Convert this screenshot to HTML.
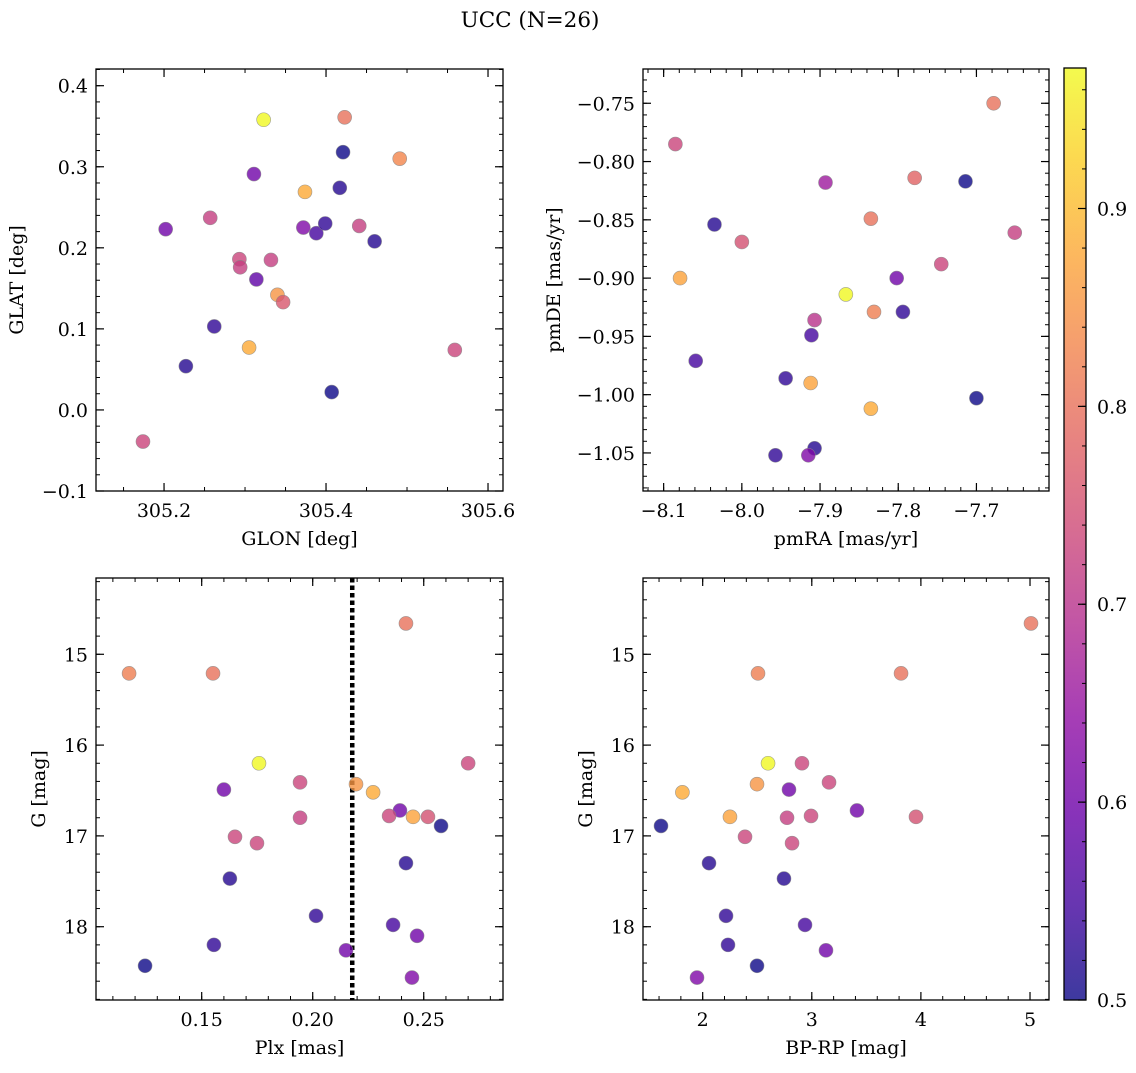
<!DOCTYPE html>
<html><head><meta charset="utf-8">
<style>
html,body{margin:0;padding:0;background:#fff;}
svg text{font-family:"DejaVu Serif","Liberation Serif",serif;fill:#000;}
</style></head>
<body>
<svg id="fig" width="1136" height="1068" viewBox="0 0 1136 1068" xmlns="http://www.w3.org/2000/svg">
<rect width="1136" height="1068" fill="#fff"/>
<text x="530" y="27" font-size="21.5" text-anchor="middle">UCC (N=26)</text>
<defs>
<linearGradient id="cbgrad" x1="0" y1="1" x2="0" y2="0">
<stop offset="0" stop-color="#0d0887"/><stop offset="0.1" stop-color="#41049d"/><stop offset="0.2" stop-color="#6a00a8"/><stop offset="0.3" stop-color="#8f0da4"/><stop offset="0.4" stop-color="#b12a90"/><stop offset="0.5" stop-color="#cc4778"/><stop offset="0.6" stop-color="#e16462"/><stop offset="0.7" stop-color="#f2844b"/><stop offset="0.8" stop-color="#fca636"/><stop offset="0.9" stop-color="#fcce25"/><stop offset="1" stop-color="#f0f921"/>
</linearGradient>
</defs>
</svg>
<script>
// ---- Panel 1: GLON / GLAT ----
const glon = [305.323,305.423,305.421,305.311,305.374,305.491,305.417,305.202,305.257,305.372,305.388,305.399,305.441,305.46,305.293,305.294,305.332,305.314,305.34,305.347,305.262,305.305,305.227,305.559,305.407,305.174];
const glat = [0.358,0.361,0.318,0.291,0.269,0.31,0.274,0.223,0.237,0.225,0.218,0.23,0.227,0.208,0.186,0.176,0.185,0.161,0.142,0.133,0.103,0.077,0.054,0.074,0.022,-0.039];
const c1 = [0.97,0.80,0.50,0.60,0.88,0.83,0.52,0.60,0.72,0.62,0.55,0.53,0.72,0.52,0.73,0.72,0.72,0.58,0.85,0.76,0.53,0.88,0.52,0.73,0.50,0.73];
// ---- Panel 2: pmRA / pmDE ----
const pmra = [-7.678,-8.085,-7.893,-7.779,-7.714,-8.035,-7.835,-8.0,-7.651,-8.079,-7.745,-7.802,-7.867,-7.831,-7.794,-7.907,-7.911,-8.059,-7.944,-7.912,-7.835,-7.7,-7.907,-7.957,-7.915];
const pmde = [-0.75,-0.785,-0.818,-0.814,-0.817,-0.854,-0.849,-0.869,-0.861,-0.9,-0.888,-0.9,-0.914,-0.929,-0.929,-0.936,-0.949,-0.971,-0.986,-0.99,-1.012,-1.003,-1.046,-1.052,-1.052];
const c2 = [0.80,0.73,0.66,0.78,0.50,0.52,0.80,0.75,0.72,0.87,0.73,0.60,0.97,0.82,0.53,0.70,0.55,0.55,0.53,0.87,0.88,0.50,0.52,0.53,0.62];
// ---- Panel 3: Plx / G ----
const plx = [0.1173,0.1551,0.242,0.1758,0.27,0.1943,0.2195,0.2272,0.16,0.2393,0.2344,0.2452,0.2519,0.1943,0.2578,0.165,0.1749,0.242,0.1627,0.2015,0.2362,0.247,0.1555,0.215,0.1245,0.2447];
const g3 = [15.21,15.21,14.66,16.2,16.2,16.41,16.43,16.52,16.49,16.72,16.78,16.79,16.79,16.8,16.89,17.01,17.08,17.3,17.47,17.88,17.98,18.1,18.2,18.26,18.43,18.56];
const c3 = [0.82,0.80,0.80,0.97,0.73,0.73,0.85,0.88,0.60,0.60,0.73,0.87,0.75,0.72,0.50,0.73,0.73,0.52,0.52,0.53,0.55,0.60,0.53,0.60,0.50,0.62];
const plxLine = [0.2178];
// ---- Panel 4: BP-RP / G ----
const bprp = [5.009,2.507,3.818,2.599,2.91,3.158,2.498,1.814,2.791,3.414,2.993,2.25,3.955,2.773,1.618,2.388,2.819,2.058,2.745,2.214,2.938,2.232,3.13,2.498,1.948];
const g4 = [14.66,15.21,15.21,16.2,16.2,16.41,16.43,16.52,16.49,16.72,16.78,16.79,16.79,16.8,16.89,17.01,17.08,17.3,17.47,17.88,17.98,18.2,18.26,18.43,18.56];
const c4 = [0.80,0.82,0.80,0.97,0.73,0.73,0.85,0.88,0.60,0.60,0.73,0.87,0.75,0.72,0.50,0.73,0.73,0.52,0.52,0.53,0.55,0.53,0.60,0.50,0.62];
// ---- tick labels ----
const ticks1x = [305.2,305.4,305.6], ticks1y = [-0.1,0.0,0.1,0.2,0.3,0.4];
const ticks2x = [-8.1,-8.0,-7.9,-7.8,-7.7], ticks2y = [-1.05,-1.00,-0.95,-0.90,-0.85,-0.80,-0.75];
const ticks3x = [0.15,0.20,0.25], ticksGy = [15,16,17,18];
const ticks4x = [2,3,4,5];
const cbTicks = [0.5,0.6,0.7,0.8,0.9];

const FS = 19;
const NS = 'http://www.w3.org/2000/svg';
const svg = document.getElementById('fig');
function mk(tag, attrs, parent){ const e=document.createElementNS(NS,tag); for(const k in attrs) e.setAttribute(k,attrs[k]); (parent||svg).appendChild(e); return e; }

const stops=[[13,8,135],[65,4,157],[106,0,168],[143,13,164],[177,42,144],[204,71,120],[225,100,98],[242,132,75],[252,166,54],[252,206,37],[240,249,33]];
const VMIN=0.5, VMAX=0.971;
function plasma(v){ let t=Math.max(0,Math.min(1,(v-VMIN)/(VMAX-VMIN)))*10; const i=Math.min(9,Math.floor(t)); const f=t-i; const a=stops[i],b=stops[i+1]; return 'rgb('+a.map((x,j)=>Math.round(x+(b[j]-x)*f)).join(',')+')'; }
function minus(s){ return s.replace('-','\u2212'); }

function panel(o){
  const sx=v=>o.L+(v-o.x0)/(o.x1-o.x0)*(o.R-o.L);
  const sy=v=>o.B-(v-o.y0)/(o.y1-o.y0)*(o.B-o.T);
  const g=mk('g',{});
  
  
  const mx0=Math.ceil(Math.min(o.x0,o.x1)/o.mx-1e-6);
  for(let k=mx0; k*o.mx<=Math.max(o.x0,o.x1)+1e-9; k++){ const x=sx(k*o.mx); mk('line',{x1:x,x2:x,y1:o.B,y2:o.B-4,stroke:'#000','stroke-width':1},g); mk('line',{x1:x,x2:x,y1:o.T,y2:o.T+4,stroke:'#000','stroke-width':1},g); }
  const my0=Math.ceil(Math.min(o.y0,o.y1)/o.my-1e-6);
  for(let k=my0; k*o.my<=Math.max(o.y0,o.y1)+1e-9; k++){ const y=sy(k*o.my); mk('line',{x1:o.L,x2:o.L+4,y1:y,y2:y,stroke:'#000','stroke-width':1},g); mk('line',{x1:o.R,x2:o.R-4,y1:y,y2:y,stroke:'#000','stroke-width':1},g); }
  o.tx.forEach(v=>{ const x=sx(v); mk('line',{x1:x,x2:x,y1:o.B,y2:o.B-8,stroke:'#000','stroke-width':1.2},g); mk('line',{x1:x,x2:x,y1:o.T,y2:o.T+8,stroke:'#000','stroke-width':1.2},g);
    const t=mk('text',{x:x,y:o.B+26,'font-size':FS,'text-anchor':'middle'},g); t.textContent=minus(v.toFixed(o.dx));
    
     });
  o.ty.forEach(v=>{ const y=sy(v); mk('line',{x1:o.L,x2:o.L+8,y1:y,y2:y,stroke:'#000','stroke-width':1.2},g); mk('line',{x1:o.R,x2:o.R-8,y1:y,y2:y,stroke:'#000','stroke-width':1.2},g);
    const t=mk('text',{x:o.L-8,y:y+7,'font-size':FS,'text-anchor':'end'},g); t.textContent=minus(v.toFixed(o.dy));
    
     });
  if(o.vline!==undefined){ const x=sx(o.vline); const l=mk('line',{x1:x,x2:x,y1:o.T,y2:o.B,stroke:'#000','stroke-width':4.5,'stroke-dasharray':'4.5 3'},g);
    
     }
  o.xs.forEach((v,i)=>{ const c=mk('circle',{cx:sx(v),cy:sy(o.ys[i]),r:7,fill:plasma(o.cs[i]),'fill-opacity':0.8,stroke:'#888','stroke-width':0.6,'stroke-opacity':0.8},g);
    
     });
  const fr=mk('rect',{x:o.L,y:o.T,width:o.R-o.L,height:o.B-o.T,fill:'none',stroke:'#000','stroke-width':1.3},g);
  
  
  const xl=mk('text',{x:(o.L+o.R)/2,y:o.B+54,'font-size':FS,'text-anchor':'middle'},g); xl.textContent=o.xlab;
  
  
  const yx=o.ylx, yy=(o.T+o.B)/2;
  const yl=mk('text',{x:yx,y:yy,'font-size':FS,'text-anchor':'middle',transform:'rotate(-90 '+yx+' '+yy+')'},g); yl.textContent=o.ylab;
  
  
}

panel({name:'glon-glat-panel',L:96,R:503,T:69,B:491,x0:305.116,x1:305.6185,y0:-0.1,y1:0.4206,mx:0.05,my:0.02,tx:ticks1x,ty:ticks1y,dx:1,dy:1,xs:glon,ys:glat,cs:c1,xlab:'GLON [deg]',ylab:'GLAT [deg]',ylx:23});
panel({name:'pmra-pmde-panel',L:643,R:1049,T:69,B:491,x0:-8.1264,x1:-7.6072,y0:-1.08265,y1:-0.7206,mx:0.02,my:0.01,tx:ticks2x,ty:ticks2y,dx:1,dy:2,xs:pmra,ys:pmde,cs:c2,xlab:'pmRA [mas/yr]',ylab:'pmDE [mas/yr]',ylx:560});
panel({name:'plx-g-panel',L:96,R:503,T:578,B:1000,x0:0.1024,x1:0.2857,y0:18.807,y1:14.16,mx:0.01,my:0.2,tx:ticks3x,ty:ticksGy,dx:2,dy:0,xs:plx,ys:g3,cs:c3,xlab:'Plx [mas]',ylab:'G [mag]',ylx:45,vline:plxLine[0]});
panel({name:'bprp-g-panel',L:643,R:1049,T:578,B:1000,x0:1.453,x1:5.174,y0:18.807,y1:14.16,mx:0.2,my:0.2,tx:ticks4x,ty:ticksGy,dx:0,dy:0,xs:bprp,ys:g4,cs:c4,xlab:'BP-RP [mag]',ylab:'G [mag]',ylx:592});

const cb=mk('g',{});


const CT=68, CB=1000, CL=1064, CR=1086;
const cy=v=>CB-(v-VMIN)/(VMAX-VMIN)*(CB-CT);
mk('rect',{x:CL,y:CT,width:CR-CL,height:CB-CT,fill:'url(#cbgrad)','fill-opacity':0.8},cb);
for(let k=25;k*0.02<=VMAX+1e-9;k++){ const y=cy(k*0.02); mk('line',{x1:CR,x2:CR-4,y1:y,y2:y,stroke:'#000','stroke-width':1},cb); }
cbTicks.forEach(v=>{ const y=cy(v); mk('line',{x1:CR,x2:CR-8,y1:y,y2:y,stroke:'#000','stroke-width':1.2},cb);
  const t=mk('text',{x:CR+11,y:y+7,'font-size':FS},cb); t.textContent=v.toFixed(1);
  
   });
mk('rect',{x:CL,y:CT,width:CR-CL,height:CB-CT,fill:'none',stroke:'#000','stroke-width':1.3},cb);
</script>
</body></html>
